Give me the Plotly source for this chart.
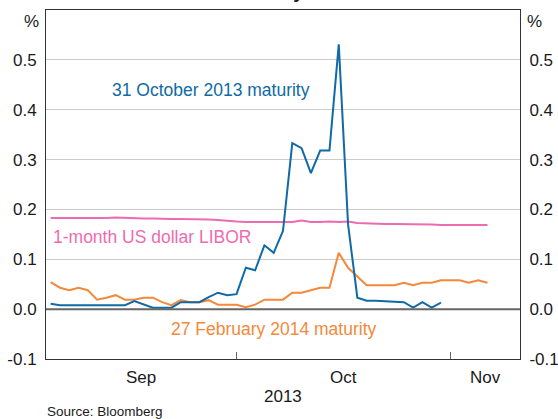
import pandas as pd
import plotly.graph_objects as go

# Business days shown on the axis (category positions)
dates = [d.strftime("%Y-%m-%d") for d in pd.bdate_range("2013-09-03", "2013-11-12")]

oct13 = [0.011, 0.008, 0.008, 0.008, 0.008, 0.008, 0.008, 0.008, 0.008, 0.016,
         0.010, 0.003, 0.003, 0.003, 0.014, 0.014, 0.014, 0.024, 0.033, 0.028,
         0.030, 0.083, 0.078, 0.128, 0.113, 0.157, 0.333, 0.323, 0.273, 0.318,
         0.318, 0.531, 0.170, 0.023, 0.017, 0.017, 0.016, 0.014, 0.014, 0.003,
         0.014, 0.003, 0.013]

feb14 = [0.054, 0.043, 0.038, 0.043, 0.038, 0.019, 0.023, 0.028, 0.019, 0.019,
         0.023, 0.023, 0.014, 0.008, 0.018, 0.014, 0.014, 0.018, 0.009, 0.009,
         0.009, 0.004, 0.009, 0.019, 0.019, 0.019, 0.033, 0.033, 0.038, 0.043,
         0.043, 0.113, 0.083, 0.066, 0.048, 0.048, 0.048, 0.048, 0.053, 0.048,
         0.053, 0.053, 0.058, 0.058, 0.058, 0.053, 0.058, 0.053]

libor = [0.183, 0.183, 0.182, 0.183, 0.183, 0.183, 0.183, 0.184, 0.183, 0.182,
         0.182, 0.182, 0.181, 0.181, 0.181, 0.181, 0.180, 0.180, 0.179, 0.177,
         0.176, 0.175, 0.175, 0.175, 0.175, 0.176, 0.175, 0.178, 0.175, 0.175,
         0.176, 0.175, 0.176, 0.173, 0.172, 0.171, 0.171, 0.171, 0.171, 0.171,
         0.170, 0.170, 0.169, 0.169, 0.169, 0.169, 0.169, 0.169]

y_ticks = [-0.1, 0.0, 0.1, 0.2, 0.3, 0.4, 0.5]
y_ticktext = ["-0.1", "0.0", "0.1", "0.2", "0.3", "0.4", "0.5"]
month_starts = ["2013-10-01", "2013-11-01"]
month_labels = ["Sep", "Oct", "Nov"]
year_label = "2013"
title_text = "US Treasury Bill Yields"

BLUE = "#0F6AA6"
ORANGE = "#F5883A"
PINK = "#EE6BB0"
FONT = "Liberation Sans, Arial, sans-serif"
TXT = "#1a1a1a"

xi = list(range(len(dates)))
tick_idx = [dates.index(d) for d in month_starts]
xmin, xmax = -0.5, len(dates) - 0.5

fig = go.Figure()
fig.add_trace(go.Scatter(x=xi[:len(libor)], y=libor, mode="lines",
                         line=dict(color=PINK, width=2), showlegend=False))
fig.add_trace(go.Scatter(x=xi[:len(feb14)], y=feb14, mode="lines",
                         line=dict(color=ORANGE, width=2), showlegend=False))
fig.add_trace(go.Scatter(x=xi[:len(oct13)], y=oct13, mode="lines",
                         line=dict(color=BLUE, width=2), showlegend=False))
# invisible trace to activate right-hand axis
fig.add_trace(go.Scatter(x=[xi[0]], y=[0], yaxis="y2", mode="markers",
                         marker=dict(opacity=0), showlegend=False, hoverinfo="skip"))

axis_common = dict(range=[-0.1, 0.6], tickvals=y_ticks, ticktext=y_ticktext,
                   zeroline=False, ticks="outside", ticklen=5,
                   tickcolor="rgba(0,0,0,0)", automargin=False,
                   tickfont=dict(family=FONT, size=17, color=TXT),
                   showline=True, linecolor="#333333", linewidth=1, fixedrange=True)

fig.update_layout(
    template="none",
    width=558, height=419,
    margin=dict(l=45.5, r=38, t=9.5, b=60, pad=0),
    paper_bgcolor="white", plot_bgcolor="white",
    xaxis=dict(range=[xmin, xmax], tickvals=tick_idx, ticktext=["", ""],
               ticks="inside", ticklen=7, tickcolor="#666666", tickwidth=1,
               showgrid=False, zeroline=False, showline=True, mirror=True,
               automargin=False,
               linecolor="#333333", linewidth=1, fixedrange=True),
    yaxis=dict(side="left", showgrid=True, gridcolor="#CCCCCC", gridwidth=1, **axis_common),
    yaxis2=dict(side="right", overlaying="y", showgrid=False, **axis_common),
    shapes=[dict(type="line", xref="paper", yref="y", x0=0, x1=1, y0=0, y1=0,
                 line=dict(color="#666666", width=2))],
)

ann = []
# month labels centred between month boundaries
bounds = [xmin] + tick_idx + [xmax]
for i, lab in enumerate(month_labels):
    c = (bounds[i] + bounds[i + 1]) / 2
    ann.append(dict(x=(c - xmin) / (xmax - xmin), xref="paper", y=-0.054, yref="paper",
                    text=lab, showarrow=False, xanchor="center", yanchor="middle",
                    font=dict(family=FONT, size=17, color=TXT)))
ann.append(dict(x=0.5, xref="paper", y=-0.108, yref="paper", text=year_label,
                showarrow=False, xanchor="center", yanchor="middle",
                font=dict(family=FONT, size=17, color=TXT)))
ann.append(dict(x=0, xref="paper", y=-0.149, yref="paper", text="Source: Bloomberg",
                showarrow=False, xanchor="left", yanchor="middle", xshift=-1,
                font=dict(family=FONT, size=13.5, color=TXT)))
# percent units
ann.append(dict(x=0, xref="paper", y=0.577, yref="y", text="%", showarrow=False,
                xanchor="right", yanchor="middle", xshift=-5,
                font=dict(family=FONT, size=17, color=TXT)))
ann.append(dict(x=1, xref="paper", y=0.577, yref="y", text="%", showarrow=False,
                xanchor="left", yanchor="middle", xshift=5,
                font=dict(family=FONT, size=17, color=TXT)))
# title, mostly above the visible page (only descenders show, as in the reference)
ann.append(dict(x=0.5, xref="paper", y=1.0, yref="paper", yshift=6, xshift=13,
                text="<b>" + title_text + "</b>", showarrow=False,
                xanchor="center", yanchor="bottom",
                font=dict(family=FONT, size=19, color=TXT)))
# series labels
ann.append(dict(x=17.3, y=0.439, text="31 October 2013 maturity", showarrow=False,
                xanchor="center", yanchor="middle", font=dict(family=FONT, size=17.5, color=BLUE)))
ann.append(dict(x=10.95, y=0.1446, text="1-month US dollar LIBOR", showarrow=False,
                xanchor="center", yanchor="middle", font=dict(family=FONT, size=17.5, color=PINK)))
ann.append(dict(x=24.0, y=-0.040, text="27 February 2014 maturity", showarrow=False,
                xanchor="center", yanchor="middle", font=dict(family=FONT, size=17.5, color=ORANGE)))
fig.update_layout(annotations=ann)

fig.write_html("out.html", config={"displayModeBar": False},
               post_script="document.body.style.margin='0';")
